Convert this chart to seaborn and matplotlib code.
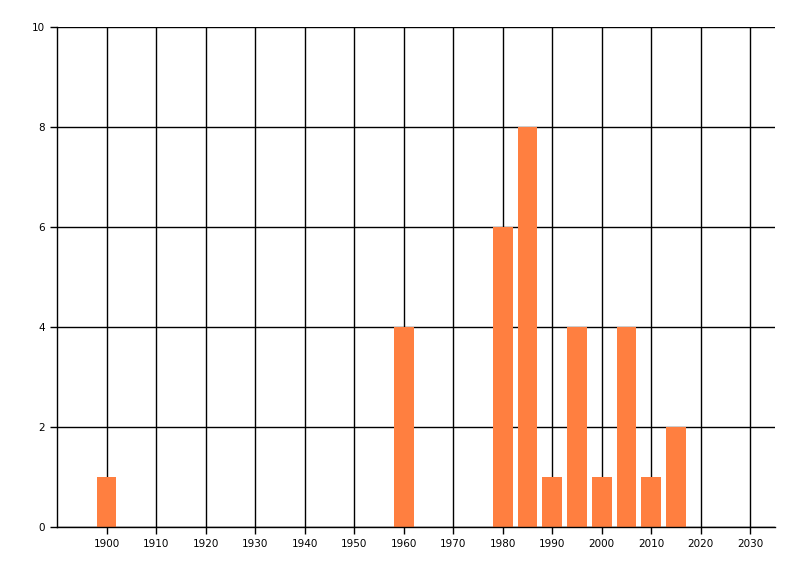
import seaborn as sns
import matplotlib.pyplot as plt
import pandas as pd

# Values
years = [1900, 1960, 1980, 1985, 1990, 1995, 2000, 2005, 2010, 2015]
counts = [1, 4, 6, 8, 1, 4, 1, 4, 1, 2]
x_ticks = list(range(1900, 2031, 10))
y_ticks = [0, 2, 4, 6, 8, 10]

df = pd.DataFrame({"year": years, "count": counts})

sns.set_style("white")
fig = plt.figure(figsize=(8, 5.76), dpi=100)
ax = fig.add_axes([57 / 800, 49 / 576, 718 / 800, 500 / 576])

sns.barplot(data=df, x="year", y="count", native_scale=True, width=0.8,
            color="#FF7F40", saturation=1, linewidth=0, edgecolor="none",
            ax=ax)

ax.set_xlim(1890, 2035)
ax.set_ylim(0, 10)
ax.set_xticks(x_ticks)
ax.set_yticks(y_ticks)
ax.set_xlabel("")
ax.set_ylabel("")

# Black grid lines behind the bars
ax.set_axisbelow(True)
ax.grid(True, color="black", linewidth=1)

for side in ["top", "right"]:
    ax.spines[side].set_visible(False)
for side in ["left", "bottom"]:
    ax.spines[side].set_color("black")
    ax.spines[side].set_linewidth(1)

ax.tick_params(axis="both", direction="out", length=5, width=1,
               color="black", labelcolor="black", labelsize=7.5,
               left=True, bottom=True)

fig.savefig("out.png", dpi=100)
